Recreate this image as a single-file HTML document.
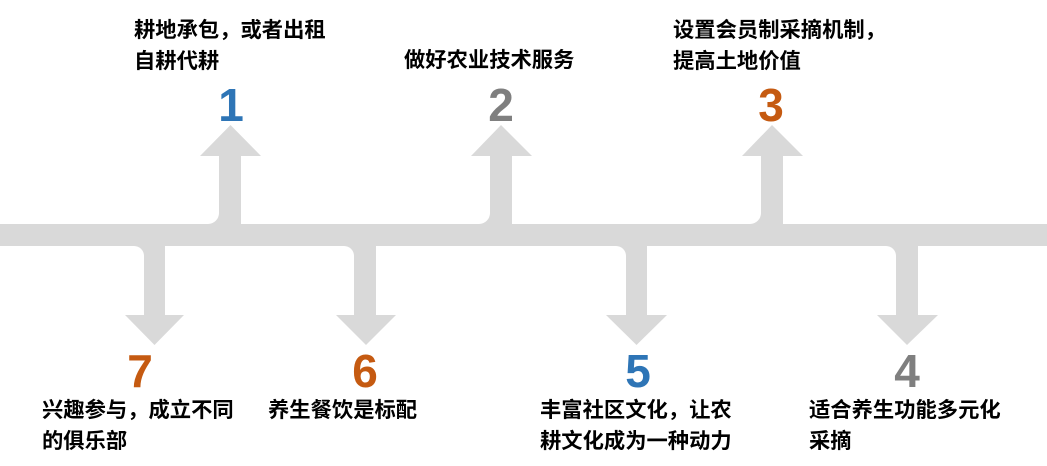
<!DOCTYPE html>
<html>
<head>
<meta charset="utf-8">
<style>
  html,body{margin:0;padding:0;background:#fff;}
  body{width:1047px;height:466px;position:relative;overflow:hidden;}
  svg{position:absolute;left:0;top:0;}
  .t{position:absolute;white-space:nowrap;font-family:"Liberation Sans","Noto Sans CJK SC","WenQuanYi Zen Hei",sans-serif;font-weight:bold;font-size:21.3px;line-height:31.5px;color:#000;}
  .n{position:absolute;width:60px;text-align:center;font-family:"Liberation Sans",sans-serif;font-weight:bold;font-size:46px;line-height:46px;}
  .blue{color:#2E75B6;}
  .gray{color:#7F7F7F;}
  .orange{color:#C55A11;}
</style>
</head>
<body>
<svg width="1047" height="466" viewBox="0 0 1047 466" xmlns="http://www.w3.org/2000/svg">
  <g fill="#D9D9D9">
    <!-- main bar -->
    <rect x="0" y="224" width="1047" height="22"/>
    <!-- up arrow 1 -->
    <rect x="219" y="154" width="22" height="72"/>
    <polygon points="200,156 230.5,125 261,156"/>
    <path d="M208,224 A11,11 0 0 0 219,213 L219,225 Z"/>
    <!-- up arrow 2 -->
    <rect x="490" y="154" width="22" height="72"/>
    <polygon points="471,156 501,125 532,156"/>
    <path d="M479,224 A11,11 0 0 0 490,213 L490,225 Z"/>
    <!-- up arrow 3 -->
    <rect x="761" y="154" width="22" height="72"/>
    <polygon points="742,156 772,125 803,156"/>
    <path d="M750,224 A11,11 0 0 0 761,213 L761,225 Z"/>
    <!-- down arrow 7 -->
    <rect x="144" y="244" width="21" height="73"/>
    <polygon points="125,315 154.5,345 184,315"/>
    <path d="M134,246 A10,10 0 0 1 144,256 L144,245 Z"/>
    <!-- down arrow 6 -->
    <rect x="354" y="244" width="22" height="73"/>
    <polygon points="336,315 366,345 396,315"/>
    <path d="M344,246 A10,10 0 0 1 354,256 L354,245 Z"/>
    <!-- down arrow 5 -->
    <rect x="626" y="244" width="21" height="73"/>
    <polygon points="606,315 636.5,345 667,315"/>
    <path d="M616,246 A10,10 0 0 1 626,256 L626,245 Z"/>
    <!-- down arrow 4 -->
    <rect x="896" y="244" width="22" height="73"/>
    <polygon points="877,315 907,345 938,315"/>
    <path d="M886,246 A10,10 0 0 1 896,256 L896,245 Z"/>
  </g>
</svg>

<!-- numbers top -->
<div class="n blue" style="left:201px;top:82px;">1</div>
<div class="n gray" style="left:471px;top:82px;">2</div>
<div class="n orange" style="left:741px;top:82px;">3</div>
<!-- numbers bottom -->
<div class="n orange" style="left:110px;top:348px;">7</div>
<div class="n orange" style="left:335px;top:348px;">6</div>
<div class="n blue" style="left:608px;top:348px;">5</div>
<div class="n gray" style="left:877px;top:348px;">4</div>

<!-- top texts -->
<div class="t" style="left:134px;top:14.5px;">耕地承包，或者出租<br>自耕代耕</div>
<div class="t" style="left:404px;top:45px;">做好农业技术服务</div>
<div class="t" style="left:673px;top:14.5px;">设置会员制采摘机制，<br>提高土地价值</div>

<!-- bottom texts -->
<div class="t" style="left:42px;top:394.5px;">兴趣参与，成立不同<br>的俱乐部</div>
<div class="t" style="left:268px;top:394.5px;">养生餐饮是标配</div>
<div class="t" style="left:540px;top:394.5px;">丰富社区文化，让农<br>耕文化成为一种动力</div>
<div class="t" style="left:809px;top:394.5px;">适合养生功能多元化<br>采摘</div>
</body>
</html>
